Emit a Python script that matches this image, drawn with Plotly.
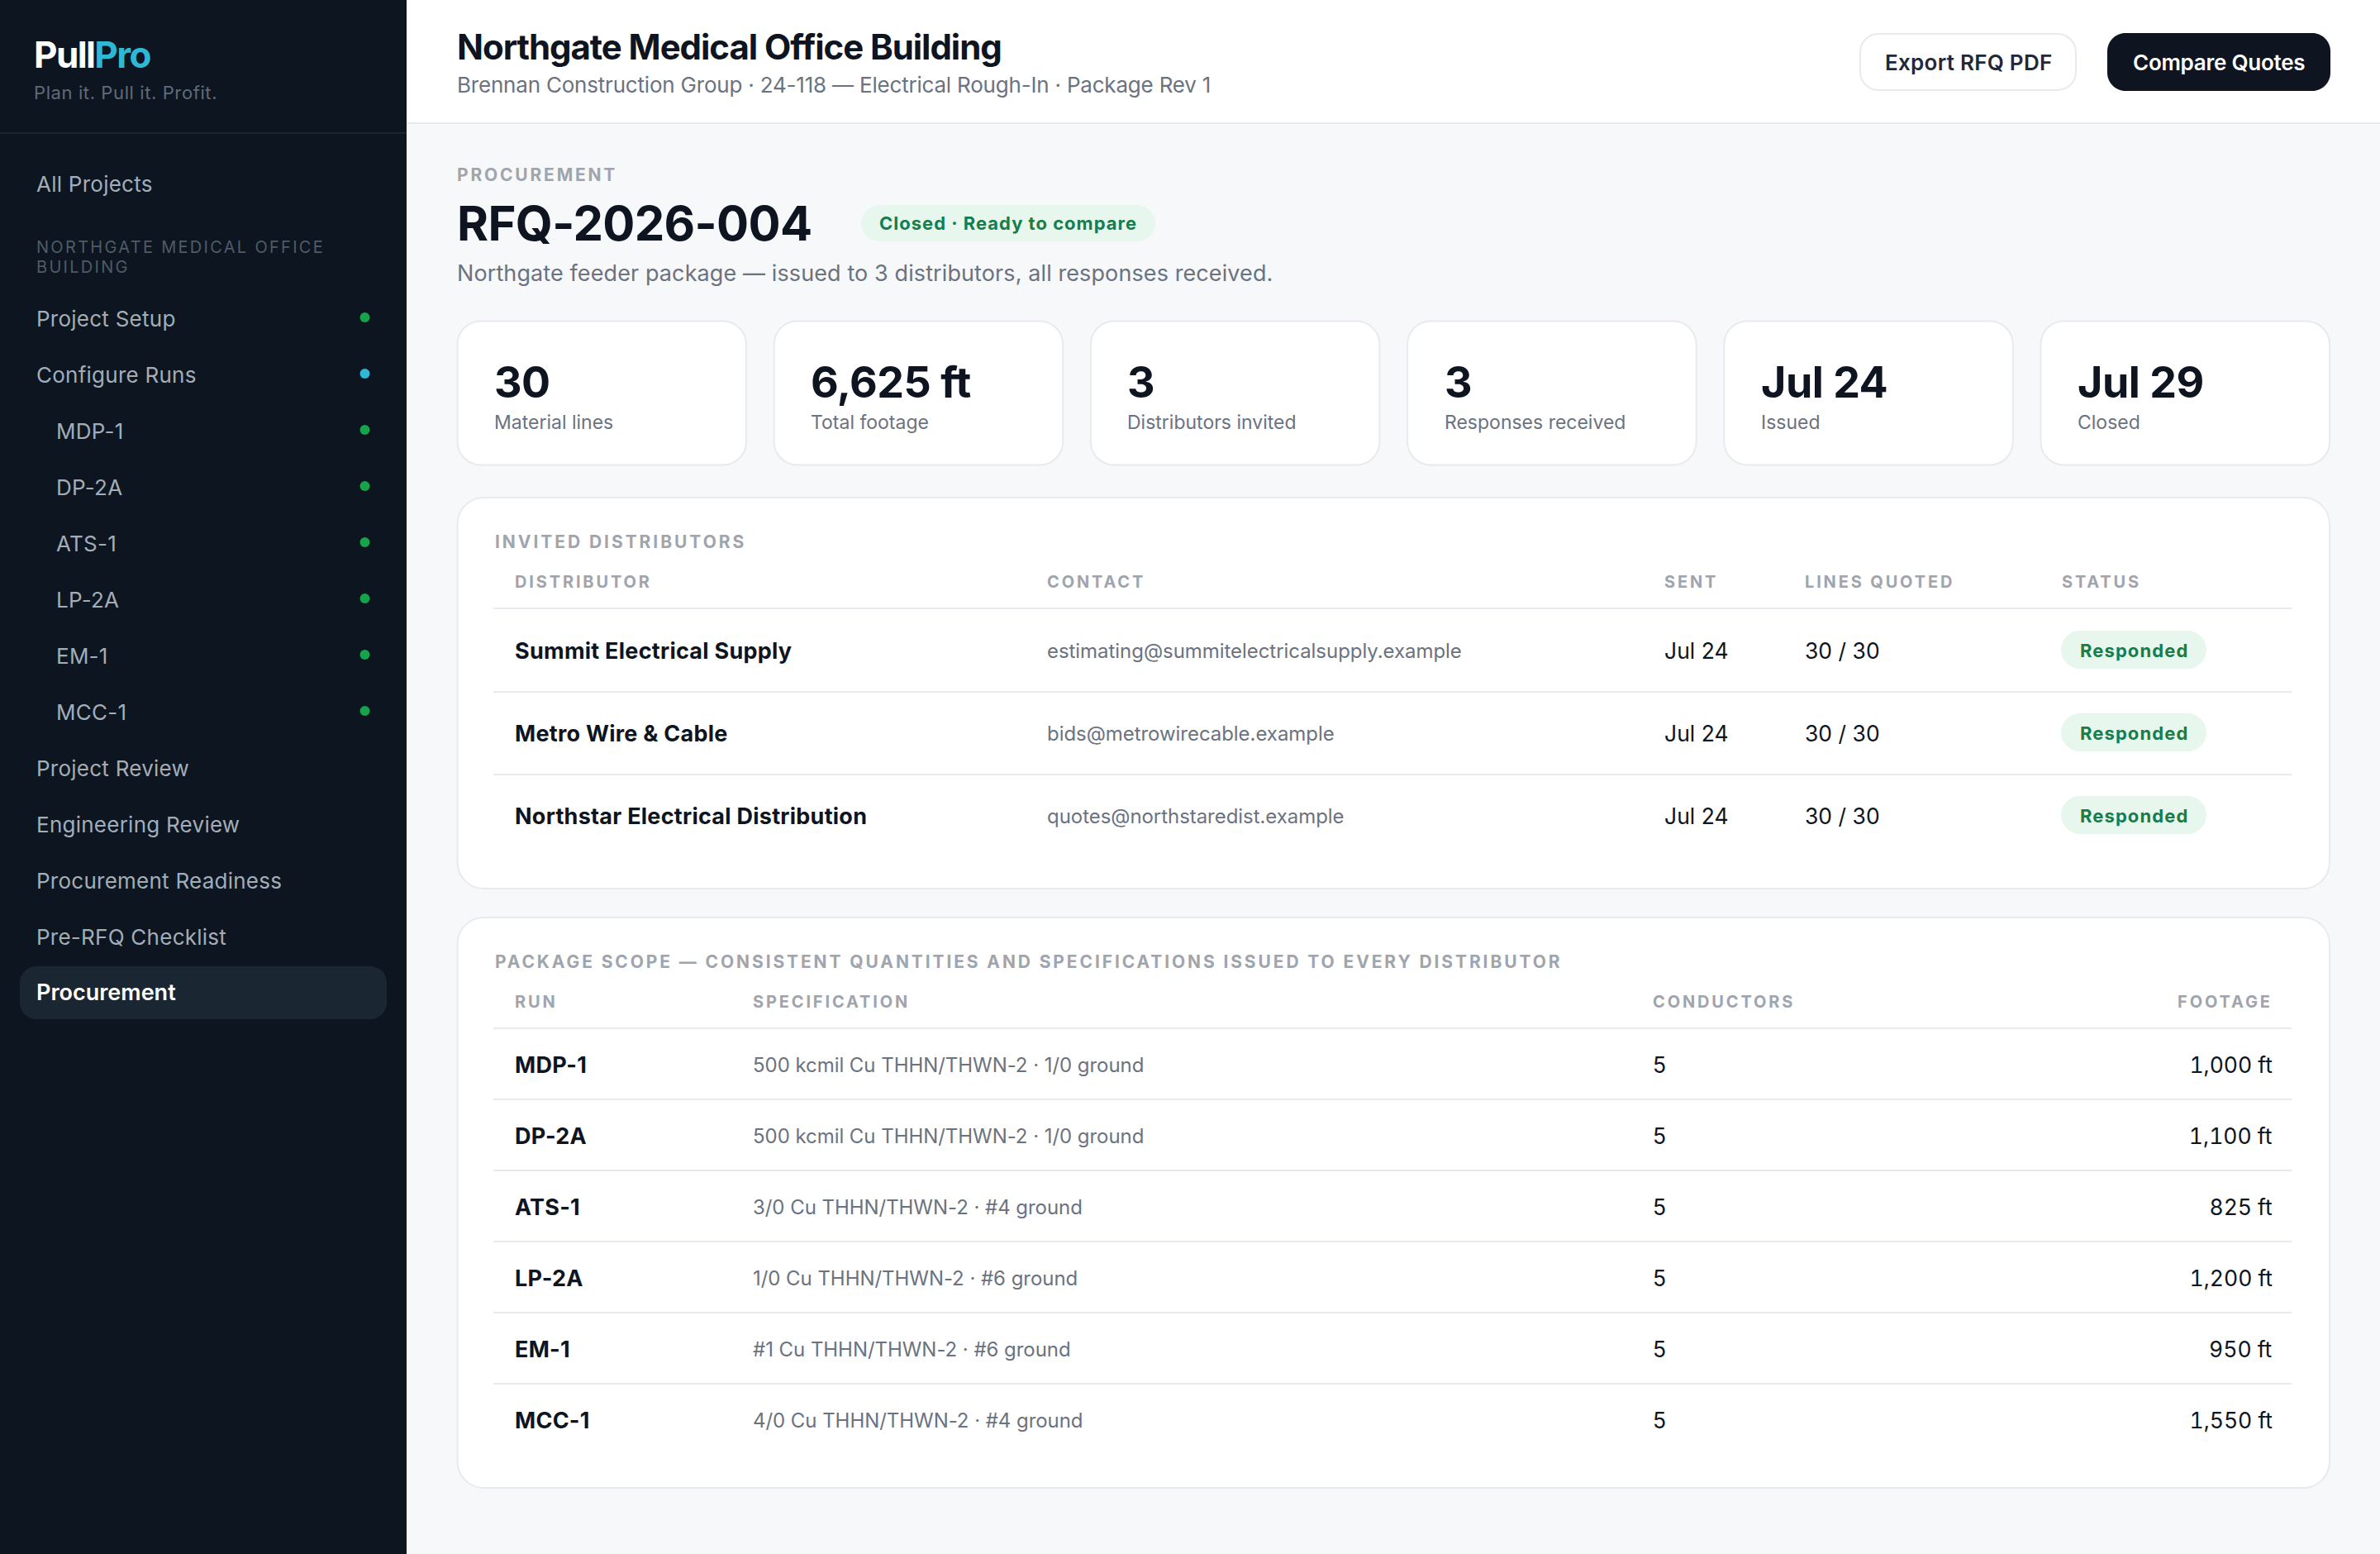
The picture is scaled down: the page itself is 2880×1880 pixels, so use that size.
import json
import plotly.graph_objects as go

# %% Text and values read from the screen
brand_a = "Pull"
brand_b = "Pro"
tagline = "Plan it. Pull it. Profit."
nav_all = "All Projects"
nav_group = ["NORTHGATE MEDICAL OFFICE", "BUILDING"]
nav_items = ["Project Setup", "Configure Runs", "MDP-1", "DP-2A", "ATS-1", "LP-2A", "EM-1", "MCC-1",
             "Project Review", "Engineering Review", "Procurement Readiness", "Pre-RFQ Checklist", "Procurement"]
nav_sub = ["MDP-1", "DP-2A", "ATS-1", "LP-2A", "EM-1", "MCC-1"]
nav_dots = ["green", "cyan", "green", "green", "green", "green", "green", "green"]

page_title = "Northgate Medical Office Building"
page_sub = "Brennan Construction Group · 24-118 — Electrical Rough-In · Package Rev 1"
btn_export = "Export RFQ PDF"
btn_compare = "Compare Quotes"
eyebrow = "PROCUREMENT"
rfq_id = "RFQ-2026-004"
rfq_status = "Closed · Ready to compare"
rfq_note = "Northgate feeder package — issued to 3 distributors, all responses received."

kpi_values = ["30", "6,625 ft", "3", "3", "Jul 24", "Jul 29"]
kpi_labels = ["Material lines", "Total footage", "Distributors invited", "Responses received", "Issued", "Closed"]

dist_title = "INVITED DISTRIBUTORS"
dist_head = ["DISTRIBUTOR", "CONTACT", "SENT", "LINES QUOTED", "STATUS"]
dist_names = ["Summit Electrical Supply", "Metro Wire & Cable", "Northstar Electrical Distribution"]
dist_mail = ["estimating@summitelectricalsupply.example", "bids@metrowirecable.example", "quotes@northstaredist.example"]
dist_sent = ["Jul 24", "Jul 24", "Jul 24"]
dist_lines = ["30 / 30", "30 / 30", "30 / 30"]
dist_status = ["Responded", "Responded", "Responded"]

scope_title = "PACKAGE SCOPE — CONSISTENT QUANTITIES AND SPECIFICATIONS ISSUED TO EVERY DISTRIBUTOR"
scope_head = ["RUN", "SPECIFICATION", "CONDUCTORS", "FOOTAGE"]
scope_runs = ["MDP-1", "DP-2A", "ATS-1", "LP-2A", "EM-1", "MCC-1"]
scope_spec = ["500 kcmil Cu THHN/THWN-2 · 1/0 ground", "500 kcmil Cu THHN/THWN-2 · 1/0 ground",
              "3/0 Cu THHN/THWN-2 · #4 ground", "1/0 Cu THHN/THWN-2 · #6 ground",
              "#1 Cu THHN/THWN-2 · #6 ground", "4/0 Cu THHN/THWN-2 · #4 ground"]
scope_cond = [5, 5, 5, 5, 5, 5]
scope_feet = [1000, 1100, 825, 1200, 950, 1550]

# %% Colours
INK = "#0e1520"
SIDE = "#0c1520"
ACTIVE = "#1a2733"
GREY = "#6b7280"
LABEL = "#a0a5ad"
LINE = "#e8eaef"
PAGE = "#f6f8fa"
GREEN = "#16a34a"
CYAN = "#2fb8d6"
PILL = "#e8f7ee"
PILLTXT = "#167d4b"
NAVTXT = "#a3adb8"

shapes = []
annos = []
spacing = []
tabular = []


def rrect(x0, y0, x1, y1, r, fill, line=None, lw=2):
    k = r * 0.45
    path = (f"M{x0+r},{y0} L{x1-r},{y0} C{x1-k},{y0} {x1},{y0+k} {x1},{y0+r} L{x1},{y1-r} "
            f"C{x1},{y1-k} {x1-k},{y1} {x1-r},{y1} L{x0+r},{y1} C{x0+k},{y1} {x0},{y1-k} {x0},{y1-r} "
            f"L{x0},{y0+r} C{x0},{y0+k} {x0+k},{y0} {x0+r},{y0} Z")
    shapes.append(dict(type="path", path=path, xref="x", yref="y", fillcolor=fill,
                       line=dict(color=line or fill, width=lw if line else 0), layer="below"))


def rect(x0, y0, x1, y1, fill):
    shapes.append(dict(type="rect", x0=x0, y0=y0, x1=x1, y1=y1, xref="x", yref="y",
                       fillcolor=fill, line_width=0, layer="below"))


def dot(cx, cy, d, fill):
    shapes.append(dict(type="circle", x0=cx - d / 2, y0=cy - d / 2, x1=cx + d / 2, y1=cy + d / 2,
                       xref="x", yref="y", fillcolor=fill, line_width=0))


def text(x, base, s, size, color, weight=400, track=0, anchor="left", tab=False):
    # y is the text baseline; Inter's line box centre sits 0.364em above it
    annos.append(dict(x=x, y=base + 1.5 - 0.364 * size, text=s, xref="x", yref="y", showarrow=False,
                      xanchor=anchor, yanchor="middle", align=anchor, borderpad=0, borderwidth=0,
                      font=dict(family="Inter", size=size, color=color, weight=weight)))
    spacing.append(track)
    tabular.append(tab)


# %% Page frame
rect(0, 0, 2880, 1880, PAGE)
rect(492, 0, 2880, 148, "#ffffff")
rect(492, 148, 2880, 150, LINE)
rect(0, 0, 492, 1880, SIDE)
rect(0, 160, 492, 162, "#1b2530")

# %% Sidebar
text(41, 81, f"{brand_a}<span style='color:{CYAN}'>{brand_b}</span>", 44, "#ffffff", 700, -1.6)
text(41, 119, tagline, 22, "#5f6b78", 400, 0.6)
text(44, 230.5, nav_all, 26, NAVTXT, 400, 0.25)
text(44, 305, nav_group[0], 20, "#4f5b68", 400, 2.3)
text(44, 329, nav_group[1], 20, "#4f5b68", 400, 2.3)

nav_y0 = 384
nav_step = 68
rrect(24, 1169, 468, 1233, 20, ACTIVE)
for i, name in enumerate(nav_items):
    cy = nav_y0 + i * nav_step
    x = 68 if name in nav_sub else 44
    last = i == len(nav_items) - 1
    text(x, cy + 9, name, 27 if last else 26, "#ffffff" if last else NAVTXT, 600 if last else 400, 0 if last else 0.25)
    if i < len(nav_dots):
        dot(441.5, cy, 12, GREEN if nav_dots[i] == "green" else CYAN)

# %% Header
text(553, 70, page_title, 42, INK, 700, -1.06)
text(553, 110, page_sub, 26, GREY, 400, -0.2)
rrect(2251, 41, 2512, 109, 22, "#ffffff", LINE)
rrect(2550, 40, 2820, 110, 22, INK)
text(2281, 83, btn_export, 26, "#1f2937", 600, 0.26)
text(2581, 83, btn_compare, 26, "#ffffff", 600, -0.26)

# %% Heading block
text(553, 218, eyebrow, 21, LABEL, 700, 2.8)
text(553, 290, rfq_id, 58, INK, 700, -0.67)
rrect(1042, 248, 1398, 292, 22, PILL)
text(1064, 277, rfq_status, 22, PILLTXT, 700, 1.0)
text(553, 339, rfq_note, 27, GREY, 400, 0.1)

# %% KPI cards
card_x0 = 553.5
card_w = 349.5
card_pitch = 383.2
for i, (val, lab) in enumerate(zip(kpi_values, kpi_labels)):
    x = card_x0 + i * card_pitch
    rrect(x, 388.5, x + card_w, 562.5, 28, "#ffffff", LINE)
    text(x + 44.5, 480, val, 52, INK, 700, -0.5)
    text(x + 44.5, 518, lab, 23, GREY, 400, 0)

# %% Distributors table
rrect(553.5, 602, 2819, 1075, 32, "#ffffff", LINE)
text(598.5, 662, dist_title, 21, LABEL, 700, 2.95)
dist_cols = [623, 1267, 2014, 2184, 2495]
for x, h in zip(dist_cols, dist_head):
    text(x, 710, h, 20, LABEL, 700, 2.85)
rect(597, 735, 2773, 737, LINE)
for i in range(len(dist_names)):
    cy = 786 + i * 100
    if i > 0:
        rect(597, cy - 50, 2773, cy - 48, LINE)
    text(dist_cols[0], cy + 10, dist_names[i], 27, INK, 700, 0.25)
    text(dist_cols[1], cy + 9, dist_mail[i], 24, GREY, 400, -0.05)
    text(dist_cols[2], cy + 9.5, dist_sent[i], 26.5, INK, 400)
    text(dist_cols[3], cy + 9.5, dist_lines[i], 26.5, INK, 400)
    rrect(2494, cy - 23, 2670, cy + 23, 23, PILL)
    text(2517, cy + 8, dist_status[i], 22, PILLTXT, 700, 1.1)

# %% Scope table
rrect(553.5, 1110, 2819, 1800, 32, "#ffffff", LINE)
text(598.5, 1170, scope_title, 21, LABEL, 700, 2.89)
scope_cols = [623, 911, 2000]
for x, h in zip(scope_cols, scope_head[:3]):
    text(x, 1218, h, 20, LABEL, 700, 2.85)
text(2750, 1218, scope_head[3], 20, LABEL, 700, 2.85, anchor="right")
rect(597, 1243, 2773, 1245, LINE)
for i in range(len(scope_runs)):
    cy = 1287 + i * 86
    if i > 0:
        rect(597, cy - 44, 2773, cy - 42, LINE)
    text(scope_cols[0], cy + 10, scope_runs[i], 27, INK, 700, 0.25)
    text(scope_cols[1], cy + 9, scope_spec[i], 24, GREY, 400, -0.05)
    text(scope_cols[2], cy + 9.5, str(scope_cond[i]), 26.5, INK, 400)
    text(2750, cy + 9.5, f"{scope_feet[i]:,} ft", 26.5, INK, 400, anchor="right", tab=True)

# %% Figure
fig = go.Figure()
fig.update_layout(width=2880, height=1880, margin=dict(l=0, r=0, t=0, b=0), paper_bgcolor=PAGE,
                  plot_bgcolor=PAGE, showlegend=False, hovermode=False, shapes=shapes, annotations=annos,
                  xaxis=dict(range=[0, 2880], visible=False, fixedrange=True),
                  yaxis=dict(range=[1880, 0], visible=False, fixedrange=True))

# plotly has no letter-spacing setting, so it goes on the finished svg text
post = ("document.body.style.margin='0';var sp=" + json.dumps(spacing) + ";var tb=" + json.dumps(tabular) + ";"
        "document.querySelectorAll('g.annotation').forEach(function(g){"
        "var t=g.querySelector('text');var i=+g.getAttribute('data-index');if(!t){return;}"
        "if(sp[i]){t.style.letterSpacing=sp[i]+'px';}"
        "if(tb[i]){t.style.fontVariantNumeric='tabular-nums';}});")
fig.write_html("out.html", post_script=post, config={"displayModeBar": False})
